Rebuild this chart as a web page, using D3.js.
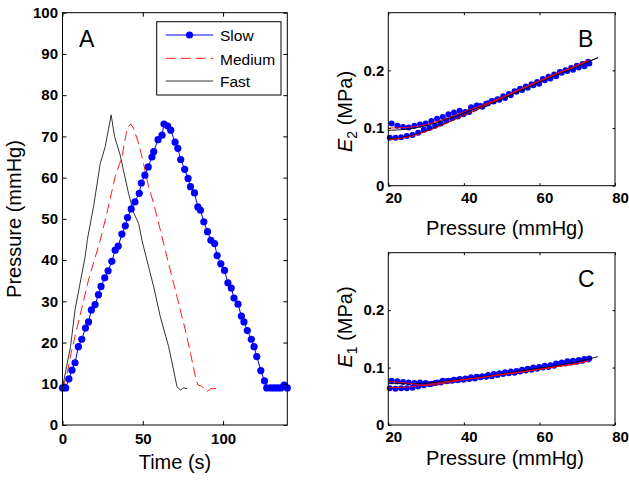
<!DOCTYPE html>
<html><head><meta charset="utf-8">
<script src="https://cdn.jsdelivr.net/npm/d3@7"></script>
<style>html,body{margin:0;padding:0;background:#fff;}svg{display:block;}</style>
</head><body>
<script>
// ---------- Panel A data ----------
const slowTime = [0,2,4,5.9,7.8,9.9,12,14.3,16.2,18,20.3,22.4,24,26.3,28.4,30.7,32.8,34.7,37,39.1,40.5,42.8,45.1,47.8,49.1,51.3,53.4,55.7,56.8,59.5,62,63.2,65.5,67.4,70.1,71.8,73.6,76.1,78.2,79.7,82.2,84.3,85.9,88,90.3,92.4,94.7,96.3,98.6,100.9,103,105.1,106.8,109.3,111.4,113,115.1,117.6,119.3,121,123.5,125.8,127.2,129.7,131.8,133.9,136,138,140];
const slowPressure = [9,9,11.2,13.3,15.1,19,20.8,23.5,25,27.9,29.2,31.6,33.6,35.7,37.4,39.7,42.4,43.4,46.3,48.3,50.3,52.4,54.1,56.2,58.7,60.6,62.6,65,66.3,69.2,70.3,73,72.5,71.5,68.6,67.1,64.4,62,59.8,57.8,56.3,52.9,52.1,49.3,46.9,44.8,44,41.1,39.1,37.5,34.5,33.2,30.8,29.3,26.4,25,22.9,20.8,19,16.6,13.2,10.7,9,9,9,9,9,9.7,9];
const mediumTime = [0,2.5,5.3,16.2,23.5,27.6,32.8,37,39.7,40.7,42.6,44.3,47.4,50.5,53.6,56.8,60.9,65,71.3,76.5,79.7,82.8,84.3,86,88,90.1,92.2,94.3,96.3,97.7];
const mediumPressure = [9,11.7,17.4,35.2,44.8,51.3,60.2,65,70.7,72.3,73,71.9,68.3,63.4,57.8,53.7,47.3,40.8,31.1,23,17.4,11.7,9.7,9.5,9,8.1,8.8,8.8,8.8,9.2];
const fastTime = [0,2.5,5,7.8,10.9,14.1,15.5,19.3,23.5,26.6,30.3,32.4,35.9,38.4,41.1,44.3,47.4,49.5,50.5,56.8,60.9,66.1,69.2,71.3,73.4,75.5,77.6];
const fastPressure = [9,14.1,19,27.9,34.3,40.8,45,52.9,63.4,67.5,75.2,70,65.5,61,56.2,51.5,48.9,44.8,43.2,33.5,26.3,19,13.3,9.3,8.5,9,8.8];
const seriesNames = ["Slow","Medium","Fast"];
const timeTicks = [0,50,100];
const pressureTicks = [0,10,20,30,40,50,60,70,80,90,100];

// ---------- Panels B & C data ----------
const loadP = [20.4,21.9,23.4,24.9,26.4,27.9,29.4,30.9,32.4,33.9,35.4,36.9,38.4,39.9,41.4,42.9,44.4,45.9,47.4,48.9,50.4,51.9,53.4,54.9,56.4,57.9,59.4,60.9,62.4,63.9,65.4,66.9,68.4,69.9,71.4,72.9];
const unloadP = [20.9,22.4,23.9,25.4,26.9,28.4,29.9,31.4,32.9,34.4,35.9,37.4,38.9,40.4,41.9,43.4,44.9,46.4,47.9,49.4,50.9,52.4,53.9,55.4,56.9,58.4,59.9,61.4,62.9,64.4,65.9,67.4,68.9,70.4,71.9,73.2];
const e2Load = [0.083,0.083,0.084,0.086,0.088,0.092,0.097,0.1,0.104,0.108,0.113,0.117,0.12,0.124,0.128,0.134,0.138,0.142,0.147,0.15,0.155,0.159,0.164,0.168,0.172,0.176,0.18,0.185,0.189,0.193,0.197,0.2,0.204,0.208,0.211,0.215];
const e2Unload = [0.108,0.104,0.102,0.101,0.104,0.106,0.108,0.112,0.116,0.119,0.124,0.127,0.13,0.128,0.136,0.139,0.137,0.143,0.146,0.149,0.152,0.157,0.163,0.166,0.17,0.174,0.177,0.183,0.186,0.19,0.196,0.199,0.201,0.205,0.207,0.212];
const e1Load = [0.064,0.063,0.064,0.064,0.065,0.067,0.069,0.071,0.073,0.074,0.076,0.077,0.078,0.079,0.08,0.081,0.083,0.084,0.085,0.087,0.089,0.09,0.091,0.093,0.095,0.096,0.098,0.1,0.101,0.103,0.106,0.107,0.109,0.11,0.112,0.114];
const e1Unload = [0.077,0.076,0.075,0.074,0.073,0.074,0.073,0.072,0.074,0.077,0.077,0.079,0.08,0.081,0.083,0.084,0.085,0.087,0.089,0.09,0.092,0.093,0.094,0.096,0.098,0.1,0.101,0.103,0.104,0.107,0.109,0.111,0.112,0.113,0.115,0.116];
// fitted curves
const fitP = [20,25,30,35,40,45,50,55,60,65,70,75.5];
const e2FitBlackLoad = [0.081,0.085,0.095,0.108,0.122,0.136,0.150,0.165,0.180,0.194,0.207,0.222];
const e2FitBlackUnload = [0.096,0.098,0.104,0.114,0.126,0.139,0.151,0.165,0.180,0.194,0.207,0.222];
const fitPRed = [20,25,30,35,40,45,50,55,60,65,70,73];
const e2FitRedLoad = [0.080,0.084,0.094,0.107,0.122,0.137,0.152,0.167,0.181,0.195,0.208,0.217];
const e2FitRedUnload = [0.100,0.101,0.106,0.116,0.128,0.140,0.153,0.168,0.182,0.196,0.209,0.218];
const e1FitBlack = [0.072,0.072,0.073,0.076,0.080,0.084,0.089,0.094,0.099,0.104,0.110,0.119];
const e1FitRedUnload = [0.076,0.073,0.069,0.073,0.079,0.083,0.088,0.092,0.097,0.102,0.107,0.112];
const e1FitRedLoad = [0.065,0.066,0.070,0.075,0.079,0.083,0.088,0.092,0.097,0.102,0.107,0.111];
const eTicks = [0,0.1,0.2];
const pTicksBC = [20,40,60,80];

// ---------- drawing ----------
const W = 629, H = 481;
const FONT = "'Liberation Sans', Arial, sans-serif";
const svg = d3.select("body").append("svg").attr("width", W).attr("height", H);
svg.append("rect").attr("width", W).attr("height", H).attr("fill", "#fff");

function frame(x, y, ticksX, ticksY, tickLen, padX, padY, fmtY, dxX) {
  const g = svg.append("g");
  const [x0, x1] = x.range(), [y0, y1] = y.range();
  const ax = [
    d3.axisBottom(x).tickValues(ticksX).tickSize(-tickLen).tickPadding(padX),
    d3.axisTop(x).tickValues(ticksX).tickSize(-tickLen).tickFormat(""),
    d3.axisLeft(y).tickValues(ticksY).tickSize(-tickLen).tickPadding(padY).tickFormat(fmtY),
    d3.axisRight(y).tickValues(ticksY).tickSize(-tickLen).tickFormat("")
  ];
  const pos = [`translate(0,${y0})`, `translate(0,${y1})`, `translate(${x0},0)`, `translate(${x1},0)`];
  ax.forEach((a, i) => {
    const ga = g.append("g").attr("transform", pos[i]).call(a);
    ga.select(".domain").remove();
    ga.selectAll("line").attr("stroke", "#000").attr("stroke-width", 1);
    ga.selectAll("text").attr("fill", "#000").style("font-family", FONT)
      .style("font-size", "15px").style("font-weight", "bold");
    if (i === 0 && dxX) ga.selectAll("text").attr("dx", dxX);
  });
  g.append("rect").attr("x", x0).attr("y", y1).attr("width", x1 - x0).attr("height", y0 - y1)
    .attr("fill", "none").attr("stroke", "#000").attr("stroke-width", 1);
}

function text(x, y, s, size, anchor, rot) {
  const t = svg.append("text").attr("x", x).attr("y", y).text(s)
    .style("font-family", FONT).style("font-size", size + "px").attr("text-anchor", anchor || "start").attr("fill", "#000");
  if (rot) t.attr("transform", `rotate(${rot},${x},${y})`);
  return t;
}

// Panel A
const xA = d3.scaleLinear().domain([0, 140]).range([62.5, 287.3]);
const yA = d3.scaleLinear().domain([0, 100]).range([425, 12.7]);
const lineA = (T, P) => d3.line().x((d, i) => xA(T[i])).y((d, i) => yA(P[i]))(T);

svg.append("path").attr("d", lineA(fastTime, fastPressure)).attr("fill", "none").attr("stroke", "#000").attr("stroke-width", 0.8);
svg.append("path").attr("d", lineA(mediumTime, mediumPressure)).attr("fill", "none").attr("stroke", "#ff0000").attr("stroke-width", 0.9).attr("stroke-dasharray", "10,5");
svg.append("path").attr("d", lineA(slowTime, slowPressure)).attr("fill", "none").attr("stroke", "#0000ff").attr("stroke-width", 1);
svg.append("g").selectAll("circle").data(slowTime).join("circle")
  .attr("cx", (d) => xA(d)).attr("cy", (d, i) => yA(slowPressure[i])).attr("r", 3.6).attr("fill", "#0000ff");

frame(xA, yA, timeTicks, pressureTicks, 4, 8, 4.5, d3.format("d"), 0);
text(79, 46.7, "A", 23);
text(175, 469, "Time (s)", 20, "middle");
text(21, 219, "Pressure (mmHg)", 20, "middle", -90);

// Legend
const lg = svg.append("g");
lg.append("rect").attr("x", 156.7).attr("y", 21.7).attr("width", 124.3).attr("height", 73.3).attr("fill", "#fff").attr("stroke", "#000").attr("stroke-width", 1);
const legY = [35, 58.3, 81];
const legStyle = [
  {c: "#0000ff", dash: null, w: 1},
  {c: "#ff0000", dash: "10,5", w: 0.9},
  {c: "#000", dash: null, w: 0.8}
];
seriesNames.forEach((n, i) => {
  const l = lg.append("line").attr("x1", 165.7).attr("x2", 213.3).attr("y1", legY[i]).attr("y2", legY[i])
    .attr("stroke", legStyle[i].c).attr("stroke-width", legStyle[i].w);
  if (legStyle[i].dash) l.attr("stroke-dasharray", legStyle[i].dash);
  if (i === 0) lg.append("circle").attr("cx", 189.5).attr("cy", legY[i]).attr("r", 3.6).attr("fill", "#0000ff");
  text(220, legY[i] + 6.3, n, 15.5);
});

// Panels B & C
function panel(yTop, yBot, eLoad, eUnload, fits, letter, sub, labelY, xlabY) {
  const x = d3.scaleLinear().domain([20, 80]).range([388.3, 615]);
  const y = d3.scaleLinear().domain([0, 0.3]).range([yBot, yTop]);
  const dots = svg.append("g").attr("fill", "#0000ff");
  loadP.forEach((p, i) => dots.append("circle").attr("cx", x(p)).attr("cy", y(eLoad[i])).attr("r", 3));
  unloadP.forEach((p, i) => dots.append("circle").attr("cx", x(p)).attr("cy", y(eUnload[i])).attr("r", 3));
  const ln = d3.line().curve(d3.curveMonotoneX);
  fits.forEach(f => {
    svg.append("path").attr("d", ln(f.P.map((p, i) => [x(p), y(f.E[i])])))
      .attr("fill", "none").attr("stroke", f.c).attr("stroke-width", 0.9);
  });
  frame(x, y, pTicksBC, eTicks, 2.5, 6.5, 4, d3.format(".1~f"), 5);
  text(578, yTop + 34, letter, 23);
  text(505, xlabY, "Pressure (mmHg)", 20, "middle");
  const t = svg.append("text").attr("transform", `translate(352,${labelY}) rotate(-90)`)
    .attr("text-anchor", "middle").style("font-family", FONT).style("font-size", "20px").attr("fill", "#000");
  t.append("tspan").style("font-style", "italic").text("E");
  t.append("tspan").attr("dy", 5).style("font-size", "14px").text(sub);
  t.append("tspan").attr("dy", -5).text(" (MPa)");
}

panel(12.7, 185.7, e2Load, e2Unload, [
  {P: fitP, E: e2FitBlackLoad, c: "#000"},
  {P: fitP, E: e2FitBlackUnload, c: "#000"},
  {P: fitPRed, E: e2FitRedLoad, c: "#ff0000"},
  {P: fitPRed, E: e2FitRedUnload, c: "#ff0000"}
], "B", "2", 111.5, 235);

panel(252.7, 425, e1Load, e1Unload, [
  {P: fitP, E: e1FitBlack, c: "#000"},
  {P: fitPRed, E: e1FitRedUnload, c: "#ff0000"},
  {P: fitPRed, E: e1FitRedLoad, c: "#ff0000"}
], "C", "1", 327, 465);
</script>
</body></html>
